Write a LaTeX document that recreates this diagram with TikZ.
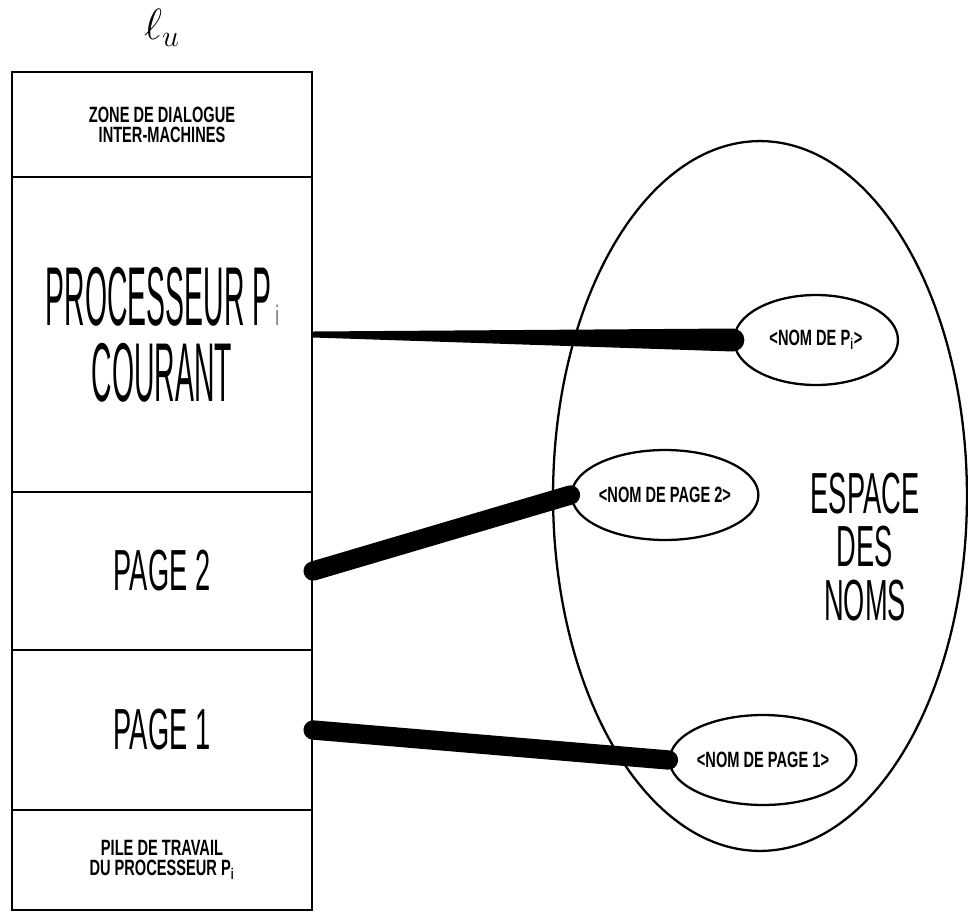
\documentclass[tikz,border=0pt]{standalone}
\usepackage{fontspec}
\usetikzlibrary{shapes.geometric, calc}

\newfontfamily\bigfont[FakeStretch=0.34]{Liberation Sans}
\newfontfamily\midfont[FakeStretch=0.47]{Liberation Sans}
\newfontfamily\smallfont[FakeStretch=0.66]{Liberation Sans}

\begin{document}
\begin{tikzpicture}[
    x=0.02cm, y=-0.02cm,
    section/.style={rectangle, draw, line width=1.3pt, minimum width=6cm, inner sep=0pt, align=center},
    namebox/.style={ellipse, draw, line width=1.3pt, inner sep=0pt, minimum height=1.8cm,
        font=\smallfont\bfseries\fontsize{12.6}{11.3}\selectfont},
    bigtxt/.style={font=\bigfont\fontsize{47.5}{43}\selectfont},
    midtxt/.style={font=\midfont\fontsize{33}{30.5}\selectfont},
    smalltxt/.style={font=\smallfont\bfseries\fontsize{12.6}{11.3}\selectfont},
    link/.style={line width=11pt, line cap=round}
]
\useasboundingbox (0,0) rectangle (968,914);

% X positions
\def\xcol{162}

% ---------- Column ----------
\node at (\xcol,28) {\fontsize{24}{24}\selectfont$\ell_u$};

\node[section, smalltxt, minimum height=2.1cm] (zone) at (\xcol,124.5)
    {ZONE DE DIALOGUE\\INTER-MACHINES};
\node[section, bigtxt, minimum height=6.3cm] (proc) at (\xcol,334.5)
    {PROCESSEUR P{\fontsize{16}{16}\selectfont\,i}\\COURANT};
\node[section, midtxt, minimum height=3.16cm] (page2) at (\xcol,571) {PAGE 2};
\node[section, midtxt, minimum height=3.2cm] (page1) at (\xcol,730) {PAGE 1};
\node[section, smalltxt, minimum height=2cm] (pile) at (\xcol,860)
    {PILE DE TRAVAIL\\DU PROCESSEUR P\textsubscript{i}};

% ---------- Name space ----------
\node[ellipse, draw, line width=1.3pt, minimum width=8.28cm, minimum height=14.2cm] (espace) at (760,496) {};
\node[midtxt, align=center] (espacelbl) at (865,547) {ESPACE\\DES\\NOMS};

\node[namebox, minimum width=3.28cm] (nomPi) at (816,340) {<NOM DE P\textsubscript{i}>};
\node[namebox, minimum width=3.4cm] (nomP2) at (665,495) {<NOM DE PAGE 2>};
\node[namebox, minimum width=3.32cm] (nomP1) at (763,760) {<NOM DE PAGE 1>};

% ---------- Links ----------
\fill ($(proc.east)+(0,-3)$) -- ($(nomPi.west)+(0,-11.5)$)
    arc[start angle=-90, end angle=90, radius=11.5] -- ($(proc.east)+(0,3)$) -- cycle;
\draw[link] (page2.east) -- (nomP2.west);
\draw[link] (page1.east) -- (nomP1.west);

\end{tikzpicture}
\end{document}
